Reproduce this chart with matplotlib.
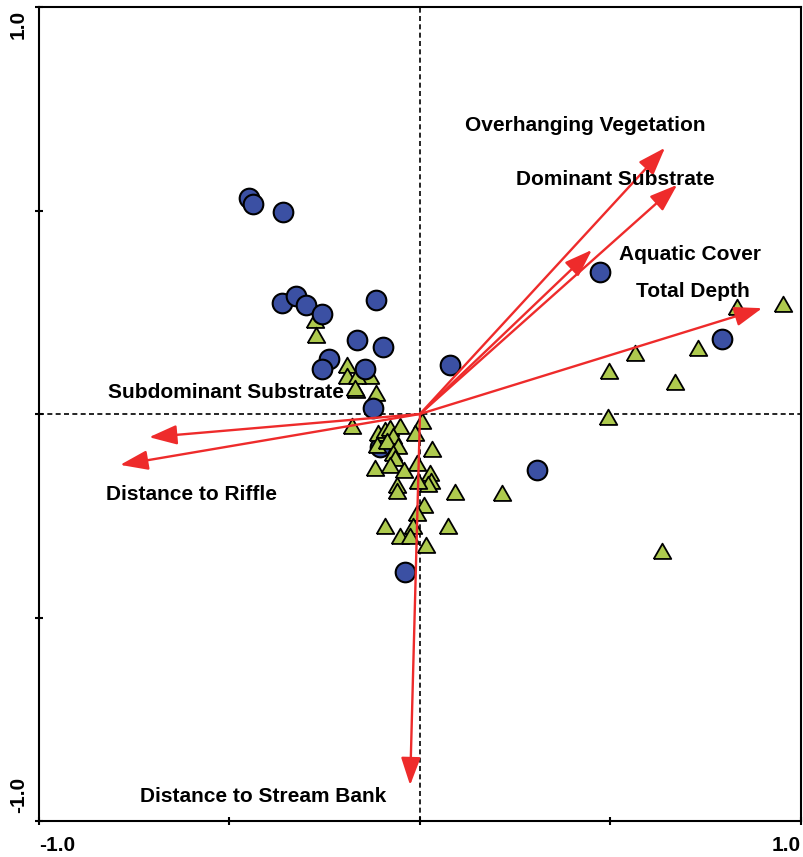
import matplotlib
matplotlib.use("Agg")
import matplotlib.pyplot as plt
from matplotlib.transforms import ScaledTranslation

plt.rcParams['font.family'] = ['Liberation Sans', 'DejaVu Sans']

# Environmental variable vectors (axis 1, axis 2 loadings)
variables = ["Overhanging Vegetation", "Dominant Substrate", "Aquatic Cover",
             "Total Depth", "Subdominant Substrate", "Distance to Riffle",
             "Distance to Stream Bank"]
var_x = [0.643, 0.675, 0.451, 0.898, -0.711, -0.787, -0.026]
var_y = [0.654, 0.563, 0.403, 0.260, -0.057, -0.125, -0.912]

# Group 1 sample scores (circles); first point sits beneath the triangles
circ_x = [-0.105, -0.449, -0.438, -0.360, -0.362, -0.325, -0.299, -0.257, -0.115,
          -0.165, -0.097, -0.239, -0.257, -0.144, -0.123, 0.079, 0.472, 0.793,
          0.307, -0.039]
circ_y = [-0.081, 0.531, 0.516, 0.496, 0.273, 0.290, 0.268, 0.246, 0.280,
          0.182, 0.165, 0.135, 0.111, 0.111, 0.015, 0.120, 0.349, 0.184,
          -0.138, -0.388]

# Group 2 sample scores (triangles)
tri_x = [0.953, 0.832, 0.730, 0.564, 0.496, 0.669, 0.493, 0.005, 0.031, 0.026,
         0.029, 0.021, 0.092, 0.215, 0.010, 0.073, 0.016, 0.635, -0.192, -0.192,
         -0.131, -0.168, -0.115, -0.178, -0.110, -0.092, -0.079, -0.052, -0.013,
         -0.113, -0.071, -0.087, -0.058, -0.071, -0.066, -0.118, -0.079, -0.042,
         -0.008, -0.005, -0.060, -0.060, -0.008, -0.092, -0.018, -0.052, -0.026,
         -0.276, -0.273, -0.165, -0.171]
tri_y = [0.265, 0.258, 0.157, 0.145, 0.101, 0.074, -0.012, -0.022, -0.091, -0.150,
         -0.170, -0.177, -0.197, -0.199, -0.229, -0.280, -0.327, -0.342, 0.115, 0.088,
         0.088, 0.054, 0.047, -0.034, -0.052, -0.044, -0.039, -0.034, -0.052,
         -0.081, -0.059, -0.071, -0.084, -0.101, -0.113, -0.138, -0.130, -0.143,
         -0.125, -0.170, -0.179, -0.194, -0.248, -0.280, -0.280, -0.305, -0.305,
         0.226, 0.189, 0.088, 0.059]

label_pos = [(0.433, 0.710), (0.512, 0.575), (0.709, 0.391), (0.717, 0.300),
             (-0.509, 0.052), (-0.601, -0.197), (-0.412, -0.941)]

fig = plt.figure(figsize=(8.04, 8.57), dpi=100)
ax = fig.add_axes([39 / 804, 1 - 821 / 857, 762 / 804, 814 / 857])
ax.set_xlim(-1, 1)
ax.set_ylim(-1, 1)

ax.axhline(0, color='black', lw=1.2, ls=(0, (3, 2)), zorder=1)
ax.axvline(0, color='black', lw=1.2, ls=(0, (3, 2)), zorder=1)

tri_marker = [(-1, -0.62), (1, -0.62), (0, 1.12), (-1, -0.62)]
circ_face = '#3B50A3'
tri_face = '#AECA4E'

ax.scatter(circ_x[:1], circ_y[:1], s=200, marker='o', facecolor=circ_face,
           edgecolor='black', linewidth=1.5, zorder=2)
ax.scatter(tri_x, tri_y, s=200, marker=tri_marker, facecolor=tri_face,
           edgecolor='black', linewidth=1.3, zorder=3)
ax.scatter(circ_x[1:], circ_y[1:], s=200, marker='o', facecolor=circ_face,
           edgecolor='black', linewidth=1.5, zorder=4)

for name, vx, vy, (lx, ly) in zip(variables, var_x, var_y, label_pos):
    ax.annotate('', xy=(vx, vy), xytext=(0, 0),
                arrowprops=dict(arrowstyle='-|>,head_length=0.85,head_width=0.3',
                                mutation_scale=20, color='#EE2B2B', lw=1.7,
                                shrinkA=0, shrinkB=0),
                zorder=5)
    ax.text(lx, ly, name, ha='center', va='center', fontsize=15,
            fontweight='bold', zorder=6)

for sp in ax.spines.values():
    sp.set_linewidth(1.5)

ax.set_xticks([-1, -0.5, 0, 0.5, 1])
ax.set_yticks([-1, -0.5, 0, 0.5, 1])
ax.set_xticklabels(['-1.0', '', '', '', '1.0'], fontsize=15, fontweight='bold')
ax.set_yticklabels(['-1.0', '', '', '', '1.0'], fontsize=15, fontweight='bold',
                   rotation=90)
ax.tick_params(direction='inout', length=6, width=1.5, pad=8)
ax.tick_params(axis='y', pad=12)
xl = ax.get_xticklabels()
xl[0].set_horizontalalignment('left')
xl[-1].set_horizontalalignment('right')
yl = ax.get_yticklabels()
yl[0].set_verticalalignment('bottom')
yl[0].set_transform(yl[0].get_transform() + ScaledTranslation(0, 8 / 100, fig.dpi_scale_trans))
yl[-1].set_verticalalignment('top')
yl[-1].set_transform(yl[-1].get_transform() + ScaledTranslation(0, -3 / 100, fig.dpi_scale_trans))
for t in yl:
    t.set_horizontalalignment('center')

fig.savefig('out.png', dpi=100)
